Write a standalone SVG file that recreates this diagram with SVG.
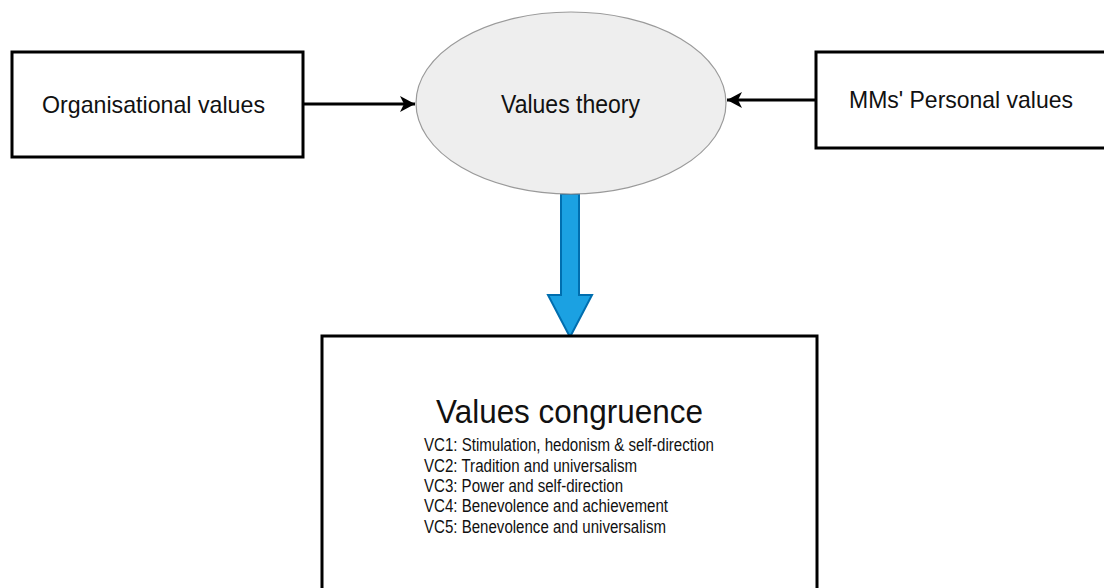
<svg xmlns="http://www.w3.org/2000/svg" width="1104" height="588" viewBox="0 0 1104 588">
  <defs>
    <style>
      .box { fill: #ffffff; stroke: #000000; stroke-width: 3; }
      .oval { fill: #eeeeee; stroke: #9a9a9a; stroke-width: 1.2; }
      .lbl { font-family: "Liberation Sans", Arial, Helvetica, sans-serif; fill: #111111; }
      .link { fill: none; stroke: #000000; stroke-width: 3; }
      .flow { fill: #1ba1e2; stroke: #006eaf; stroke-width: 2; stroke-linejoin: miter; }
    </style>
    <marker id="head" viewBox="0 0 16 16" refX="15" refY="8" markerWidth="16" markerHeight="16" markerUnits="userSpaceOnUse" orient="auto">
      <path d="M0,0 L15,8 L0,16 L4,8 Z" fill="#000000"/>
    </marker>
  </defs>
  <rect width="1104" height="588" fill="#ffffff"/>

  <g id="connectors">
    <line class="link" x1="303" y1="104" x2="415" y2="104" marker-end="url(#head)"/>
    <line class="link" x1="816" y1="100" x2="727" y2="100" marker-end="url(#head)"/>
    <path class="flow" d="M561,194 L579,194 L579,295 L592,295 L570,337 L548,295 L561,295 Z"/>
  </g>

  <g id="organisational-values">
    <rect class="box" x="12" y="52" width="291" height="105"/>
    <text class="lbl" x="42" y="113" font-size="24" textLength="223" lengthAdjust="spacingAndGlyphs">Organisational values</text>
  </g>

  <g id="values-theory">
    <ellipse class="oval" cx="571" cy="103" rx="155" ry="91"/>
    <text class="lbl" x="501" y="113" font-size="26" textLength="139" lengthAdjust="spacingAndGlyphs">Values theory</text>
  </g>

  <g id="personal-values">
    <rect class="box" x="816" y="52" width="300" height="96"/>
    <text class="lbl" x="849" y="108" font-size="24" textLength="224" lengthAdjust="spacingAndGlyphs">MMs' Personal values</text>
  </g>

  <g id="values-congruence">
    <rect class="box" x="322" y="336" width="495" height="270"/>
    <text class="lbl" x="436" y="423" font-size="34" textLength="267" lengthAdjust="spacingAndGlyphs">Values congruence</text>
    <text class="lbl" x="424" y="451" font-size="17.5" textLength="290" lengthAdjust="spacingAndGlyphs">VC1: Stimulation, hedonism &amp; self-direction</text>
    <text class="lbl" x="424" y="472" font-size="17.5" textLength="213" lengthAdjust="spacingAndGlyphs">VC2: Tradition and universalism</text>
    <text class="lbl" x="424" y="492" font-size="17.5" textLength="199" lengthAdjust="spacingAndGlyphs">VC3: Power and self-direction</text>
    <text class="lbl" x="424" y="512" font-size="17.5" textLength="244" lengthAdjust="spacingAndGlyphs">VC4: Benevolence and achievement</text>
    <text class="lbl" x="424" y="533" font-size="17.5" textLength="242" lengthAdjust="spacingAndGlyphs">VC5: Benevolence and universalism</text>
  </g>
</svg>
